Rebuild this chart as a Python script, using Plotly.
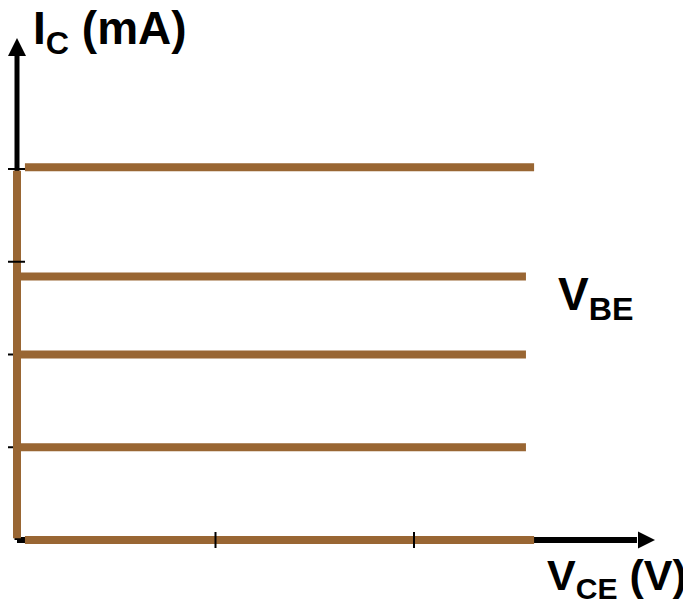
import plotly.graph_objects as go

# ---- data (V_CE in volts, I_C in mA) ----
ic_levels = [0.0, 1.0, 2.0, 2.84, 4.02]          # collector-current curves
vce_start = [0.04, 0.0, 0.0, 0.0, 0.04]
vce_end = [2.605, 2.564, 2.564, 2.564, 2.605]
sat_ic = [0.02, 3.98]                              # vertical (saturation) segment
x_ticks = [1, 2]
y_ticks = [1, 2, 3, 4]
x_axis_end = 3.214
y_axis_end = 5.412

BROWN = "#996633"
BLACK = "#000000"

# page body has an 8px margin: the figure starts 8px in from the window edge
OFF = 8
W, H = 691 - OFF, 605 - OFF
X0PX, UX = 17 - OFF, 198.5
Y0PX, UY = 540 - OFF, 92.75
xr = [-X0PX / UX, (W - X0PX) / UX]
yr = [-(H - Y0PX) / UY, Y0PX / UY]

fig = go.Figure()

# black axes (lines under the curves)
fig.add_trace(go.Scatter(x=[0, 0], y=[0, y_axis_end - 18 / UY], mode="lines",
                         line=dict(color=BLACK, width=5), hoverinfo="skip"))
fig.add_trace(go.Scatter(x=[0, x_axis_end - 18 / UX], y=[0, 0], mode="lines",
                         line=dict(color=BLACK, width=6), hoverinfo="skip"))
fig.add_trace(go.Scatter(x=[0], y=[y_axis_end], mode="markers",
                         marker=dict(symbol="arrow-up", size=18, color=BLACK), hoverinfo="skip"))
fig.add_trace(go.Scatter(x=[x_axis_end], y=[0], mode="markers",
                         marker=dict(symbol="arrow-right", size=17, color=BLACK), hoverinfo="skip"))

# lower y ticks (under the brown curve)
for t in y_ticks[:2]:
    fig.add_trace(go.Scatter(x=[-9 / UX, 0], y=[t, t], mode="lines",
                             line=dict(color=BLACK, width=2), hoverinfo="skip"))

# brown characteristic curves
fig.add_trace(go.Scatter(x=[0, 0], y=sat_ic, mode="lines",
                         line=dict(color=BROWN, width=8), hoverinfo="skip"))
for ic, xs, xe in zip(ic_levels, vce_start, vce_end):
    fig.add_trace(go.Scatter(x=[xs, xe], y=[ic, ic], mode="lines",
                             line=dict(color=BROWN, width=8), hoverinfo="skip"))

# upper y ticks (over the curve)
for t in y_ticks[2:]:
    fig.add_trace(go.Scatter(x=[-9 / UX, 8 / UX], y=[t, t], mode="lines",
                             line=dict(color=BLACK, width=2), hoverinfo="skip"))
# x ticks
for t in x_ticks:
    fig.add_trace(go.Scatter(x=[t, t], y=[-8 / UY, 8 / UY], mode="lines",
                             line=dict(color=BLACK, width=2), hoverinfo="skip"))

FAMILY = "Liberation Sans, Arial, sans-serif"
labels = [
    ("<b>I<sub>C</sub> (mA)</b>", 31, 31, 46),
    ("<b>V<sub>BE</sub></b>", 556, 297, 46),
    ("<b>V<sub>CE</sub> (V)</b>", 545, 578, 43),
]
for txt, px, py, fs in labels:
    fig.add_annotation(text=txt, x=(px - 17) / UX, y=(540 - py) / UY,
                       xref="x", yref="y", xanchor="left", yanchor="middle",
                       showarrow=False,
                       font=dict(family=FAMILY, size=fs, color=BLACK))

fig.update_layout(
    width=W, height=H, margin=dict(l=0, r=0, t=0, b=0),
    paper_bgcolor="white", plot_bgcolor="white", showlegend=False,
    xaxis=dict(range=xr, visible=False, fixedrange=True),
    yaxis=dict(range=yr, visible=False, fixedrange=True),
)
fig.write_html("out.html")
